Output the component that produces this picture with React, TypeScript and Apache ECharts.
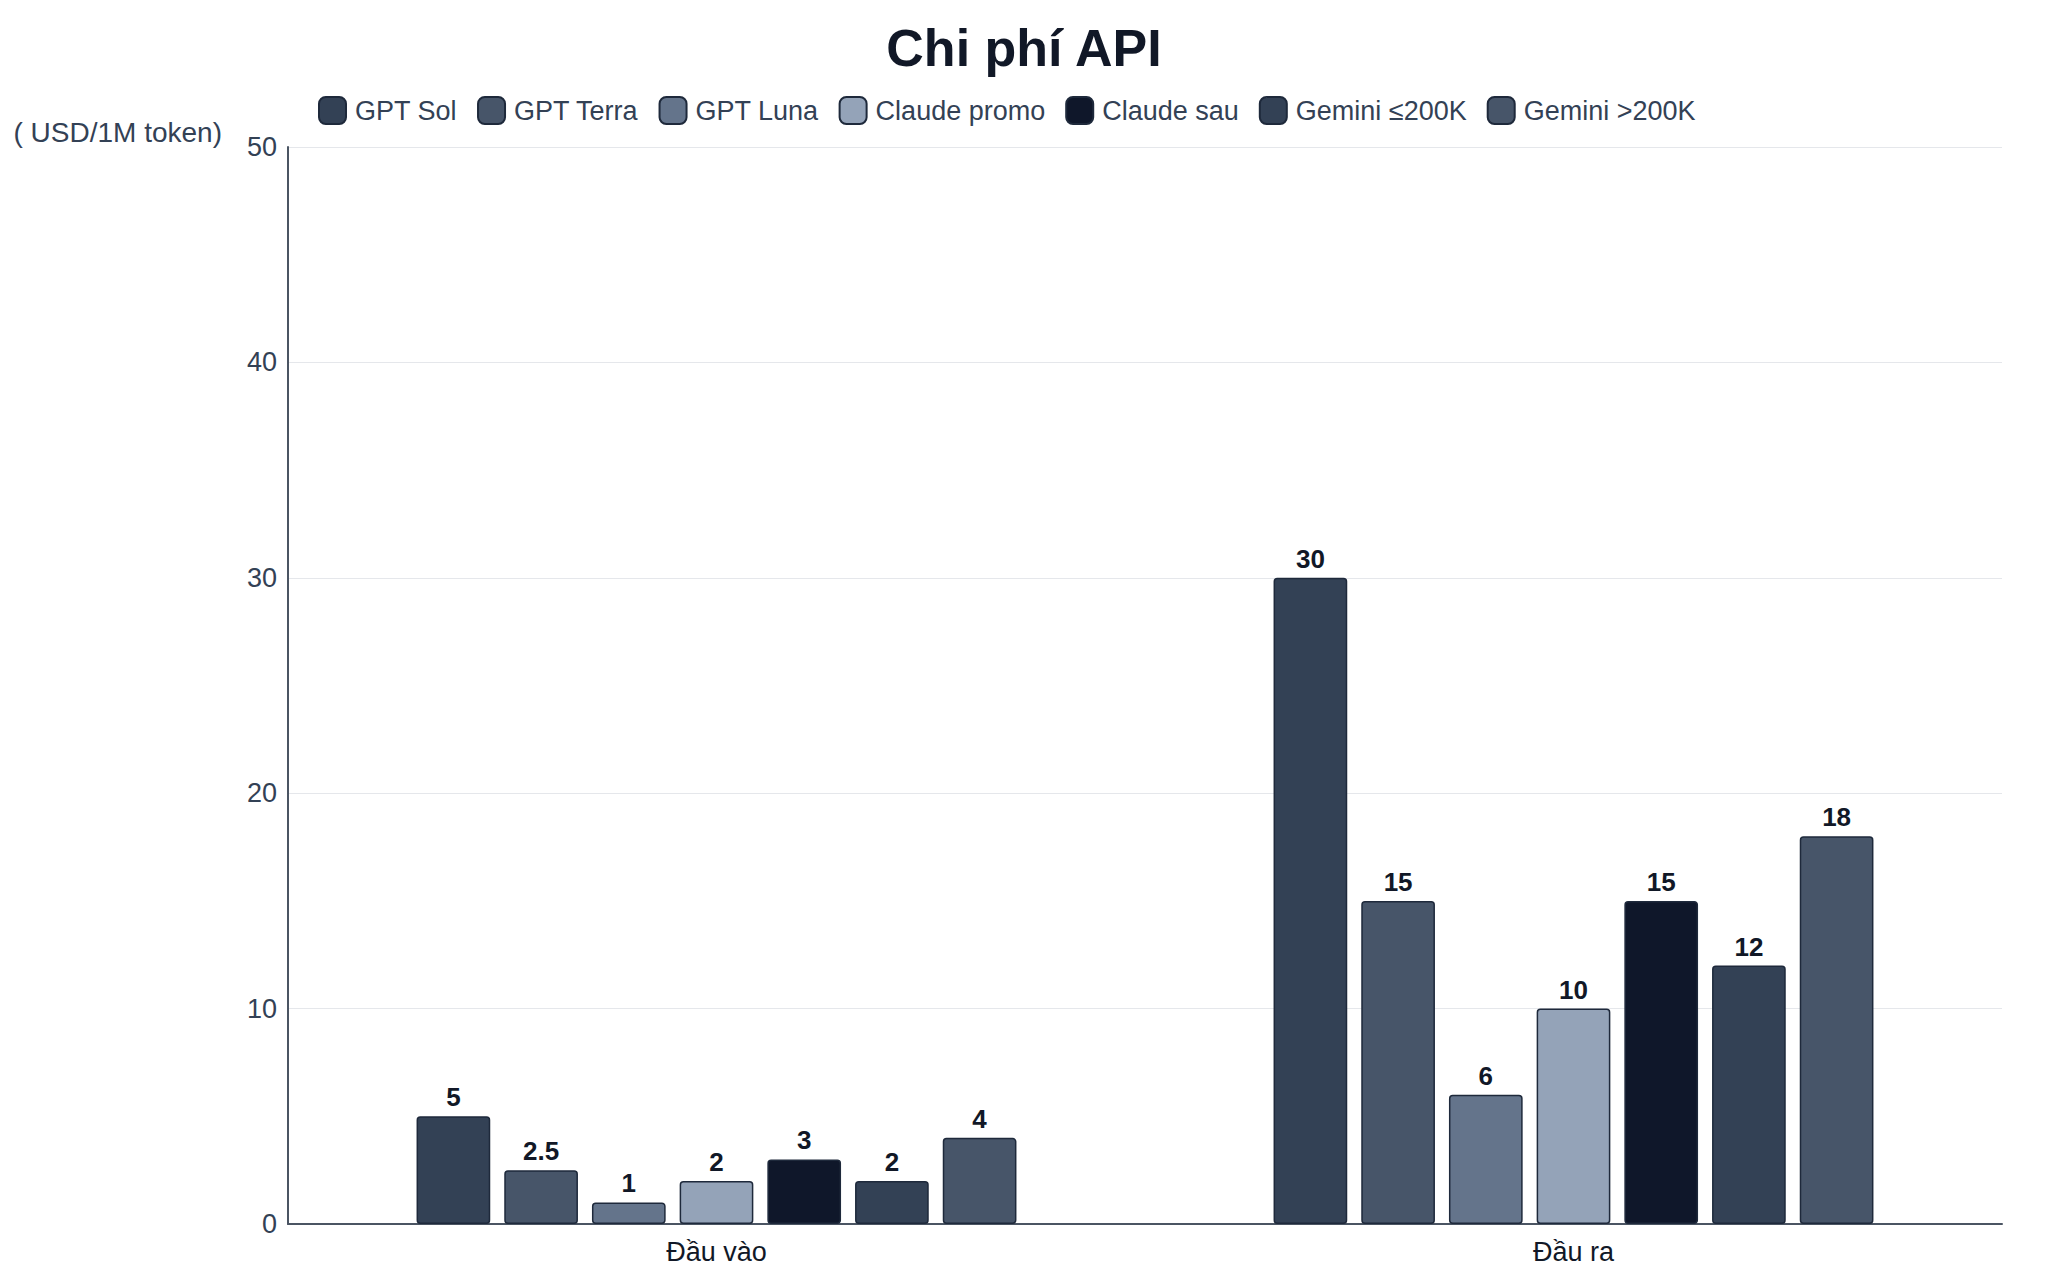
import React, { useEffect, useRef } from 'react';
import * as echarts from 'echarts';

// dữ liệu
const categories = ['Đầu vào', 'Đầu ra'];
const seriesNames = ['GPT Sol', 'GPT Terra', 'GPT Luna', 'Claude promo', 'Claude sau', 'Gemini ≤200K', 'Gemini >200K'];
const seriesColors = ['#334155', '#475569', '#64748b', '#94a3b8', '#0f172a', '#334155', '#475569'];
const gptSol = [5, 30];
const gptTerra = [2.5, 15];
const gptLuna = [1, 6];
const claudePromo = [2, 10];
const claudeSau = [3, 15];
const geminiLow = [2, 12];
const geminiHigh = [4, 18];
const seriesValues = [gptSol, gptTerra, gptLuna, claudePromo, claudeSau, geminiLow, geminiHigh];

const FONT = '"Liberation Sans", Arial, Helvetica, sans-serif';

const App: React.FC = () => {
  const chartRef = useRef<HTMLDivElement>(null);

  useEffect(() => {
    if (!chartRef.current) return;
    document.body.style.margin = '0';
    const chart = echarts.init(chartRef.current, undefined, { renderer: 'svg' });

    const option: echarts.EChartsOption = {
      animation: false,
      backgroundColor: '#ffffff',
      textStyle: { fontFamily: FONT },
      title: {
        text: 'Chi phí API',
        left: 'center',
        top: 17,
        textStyle: {
          fontSize: 52,
          fontWeight: 'bold',
          color: '#111827',
          fontFamily: FONT
        }
      },
      legend: {
        data: seriesNames,
        left: 313,
        top: 91,
        itemWidth: 27,
        itemHeight: 27,
        itemGap: 20,
        icon: 'roundRect',
        textStyle: {
          fontSize: 27,
          color: '#334155',
          fontFamily: FONT,
          padding: [0, 0, 0, 4]
        }
      },
      grid: {
        left: 288,
        right: 46,
        top: 147,
        bottom: 56,
        containLabel: false
      },
      xAxis: {
        type: 'category',
        data: categories,
        axisLine: { lineStyle: { color: '#4b5563', width: 2 } },
        axisTick: { show: false },
        axisLabel: {
          fontSize: 27,
          color: '#111827',
          margin: 14,
          fontFamily: FONT
        }
      },
      yAxis: {
        type: 'value',
        min: 0,
        max: 50,
        interval: 10,
        name: '( USD/1M token)',
        nameLocation: 'end',
        nameGap: 15,
        nameTextStyle: {
          fontSize: 28,
          color: '#334155',
          align: 'right',
          verticalAlign: 'middle',
          padding: [0, 66, 0, 0],
          fontFamily: FONT
        },
        axisLine: { show: true, lineStyle: { color: '#4b5563', width: 2 } },
        axisTick: { show: false },
        axisLabel: {
          fontSize: 27,
          color: '#334155',
          margin: 11,
          fontFamily: FONT
        },
        splitLine: { lineStyle: { color: '#e5e7eb', width: 1 } }
      },
      series: seriesNames.map((name, i) => ({
        name,
        type: 'bar',
        data: seriesValues[i],
        barGap: '19%',
        barCategoryGap: '30%',
        itemStyle: {
          color: seriesColors[i],
          borderColor: '#1e293b',
          borderWidth: 1.5,
          borderRadius: 3
        },
        label: {
          show: true,
          position: 'top',
          distance: 6,
          fontSize: 26,
          fontWeight: 'bold',
          color: '#111827',
          fontFamily: FONT
        }
      }))
    };

    chart.setOption(option);

    const handleResize = () => chart.resize();
    window.addEventListener('resize', handleResize);
    return () => {
      window.removeEventListener('resize', handleResize);
      chart.dispose();
    };
  }, []);

  return <div ref={chartRef} style={{ width: 2048, height: 1280 }} />;
};

export default App;
